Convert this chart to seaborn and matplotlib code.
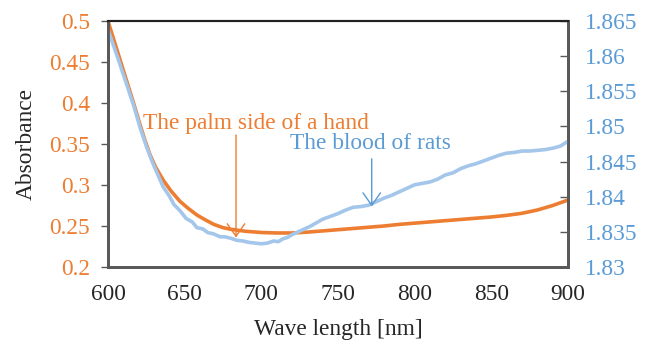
#!/usr/bin/env python3
"""Absorbance spectra: palm side of a hand vs. blood of rats (twin y axes)."""

import pandas as pd
import matplotlib
matplotlib.use("Agg")
import matplotlib.pyplot as plt
import seaborn as sns

# --- data -------------------------------------------------------------------
palm_nm = [600, 606, 612, 617, 621, 624, 627.4, 631, 636, 641, 647, 652, 658,
           663, 669, 675, 680, 690, 701, 710, 720, 730, 740, 750, 760, 770,
           780, 790, 800, 810, 820, 830, 840, 850, 860, 870, 880, 890, 900]
palm_abs = [0.500, 0.464, 0.428, 0.398, 0.373, 0.355, 0.337, 0.322, 0.306,
            0.293, 0.280, 0.272, 0.2634, 0.258, 0.252, 0.248, 0.246, 0.2435,
            0.242, 0.2415, 0.2415, 0.2425, 0.244, 0.2455, 0.247, 0.2485,
            0.250, 0.252, 0.2535, 0.255, 0.2565, 0.258, 0.2595, 0.261, 0.263,
            0.2655, 0.2695, 0.275, 0.2817]

rat_nm = [600, 606, 612, 617, 621, 625, 629, 632, 636, 640, 643, 647, 651,
          655, 658, 662, 665, 669, 673, 676, 680, 684, 688, 692, 696, 700,
          704, 708, 711, 714, 717, 720, 724, 728, 732, 736, 740, 745, 750,
          755, 760, 765, 770, 775, 780, 785, 790, 795, 800, 805, 810, 815,
          820, 825, 830, 835, 840, 845, 850, 855, 860, 865, 870, 875, 880,
          885, 890, 895, 900]
rat_abs = [1.8638, 1.8600, 1.8561, 1.8528, 1.8498, 1.8472, 1.8449, 1.8434,
           1.8414, 1.8401, 1.8389, 1.8380, 1.8369, 1.8364, 1.8356, 1.8354,
           1.8349, 1.8347, 1.8343, 1.8343, 1.8341, 1.8338, 1.8337, 1.8335,
           1.8334, 1.8333, 1.8334, 1.8337, 1.8336, 1.8340, 1.8342, 1.8346,
           1.8350, 1.8354, 1.8358, 1.8363, 1.8368, 1.8372, 1.8376, 1.8381,
           1.8385, 1.8386, 1.8388, 1.8393, 1.8398, 1.8402, 1.8407, 1.8412,
           1.8417, 1.8419, 1.8421, 1.8425, 1.8431, 1.8434, 1.8440, 1.8444,
           1.8447, 1.8451, 1.8455, 1.8459, 1.8462, 1.8463, 1.8465, 1.8465,
           1.8466, 1.8467, 1.8469, 1.8472, 1.8479]

x_ticks = [600, 650, 700, 750, 800, 850, 900]
left_ticks = [0.2, 0.25, 0.3, 0.35, 0.4, 0.45, 0.5]
left_labels = ["0.2", "0.25", "0.3", "0.35", "0.4", "0.45", "0.5"]
right_ticks = [1.83, 1.835, 1.84, 1.845, 1.85, 1.855, 1.86, 1.865]
right_labels = ["1.83", "1.835", "1.84", "1.845", "1.85", "1.855", "1.86", "1.865"]

ORANGE = "#ED7D31"
BLUE_TXT = "#5B9BD5"
BLUE_LINE = "#A4C6EA"
GRAY = "#595959"

sns.set_style("white")
plt.rcParams["font.family"] = ["Liberation Serif", "DejaVu Serif"]
FS = 16.8

palm = pd.DataFrame({"nm": palm_nm, "abs": palm_abs})
rats = pd.DataFrame({"nm": rat_nm, "abs": rat_abs})

fig = plt.figure(figsize=(6.52, 3.40), dpi=100)
ax = fig.add_axes([0.1656, 0.2147, 0.7056, 0.7235])
ax2 = ax.twinx()

sns.lineplot(data=palm, x="nm", y="abs", ax=ax, color=ORANGE, lw=2.6)
sns.lineplot(data=rats, x="nm", y="abs", ax=ax2, color=BLUE_LINE, lw=2.6)

ax.set_xlim(600, 900)
ax.set_ylim(0.2, 0.5)
ax2.set_ylim(1.83, 1.865)

ax.set_xticks(x_ticks)
ax.set_xticklabels([str(v) for v in x_ticks], fontsize=FS)
ax.set_yticks(left_ticks)
ax.set_yticklabels(left_labels, fontsize=FS, color=ORANGE)
ax2.set_yticks(right_ticks)
ax2.set_yticklabels(right_labels, fontsize=FS, color=BLUE_TXT)

ax.tick_params(axis="x", direction="in", length=5, width=1, color=GRAY, pad=12)
ax.tick_params(axis="y", direction="out", length=5, width=1, color=GRAY, pad=8)
ax2.tick_params(axis="y", direction="in", length=6, width=1, color=GRAY, pad=12)

ax.set_xlabel("Wave length [nm]", fontsize=FS, labelpad=10)
ax.set_ylabel("Absorbance", fontsize=FS, labelpad=9)
ax2.set_ylabel("")

for a in (ax, ax2):
    for side in ("left", "bottom", "right"):
        a.spines[side].set_color(GRAY)
        a.spines[side].set_linewidth(2)
    a.spines["top"].set_color("#222222")
    a.spines["top"].set_linewidth(1.5)

# annotations
ax.text(622.8, 0.3756, "The palm side of a hand", color=ORANGE,
        fontsize=FS, va="center", ha="left")
ax.annotate("", xy=(683.5, 0.236), xytext=(683.5, 0.361),
            arrowprops=dict(arrowstyle="->,head_length=0.5,head_width=0.35",
                            color=ORANGE, lw=1, mutation_scale=18,
                            shrinkA=0, shrinkB=0))
ax2.text(718.7, 1.8476, "The blood of rats", color=BLUE_TXT,
         fontsize=FS, va="center", ha="left")
ax2.annotate("", xy=(772, 1.8386), xytext=(772, 1.8454),
             arrowprops=dict(arrowstyle="->,head_length=0.5,head_width=0.35",
                             color=BLUE_TXT, lw=1, mutation_scale=18,
                             shrinkA=0, shrinkB=0))

fig.savefig("out.png", dpi=100)
plt.close(fig)
